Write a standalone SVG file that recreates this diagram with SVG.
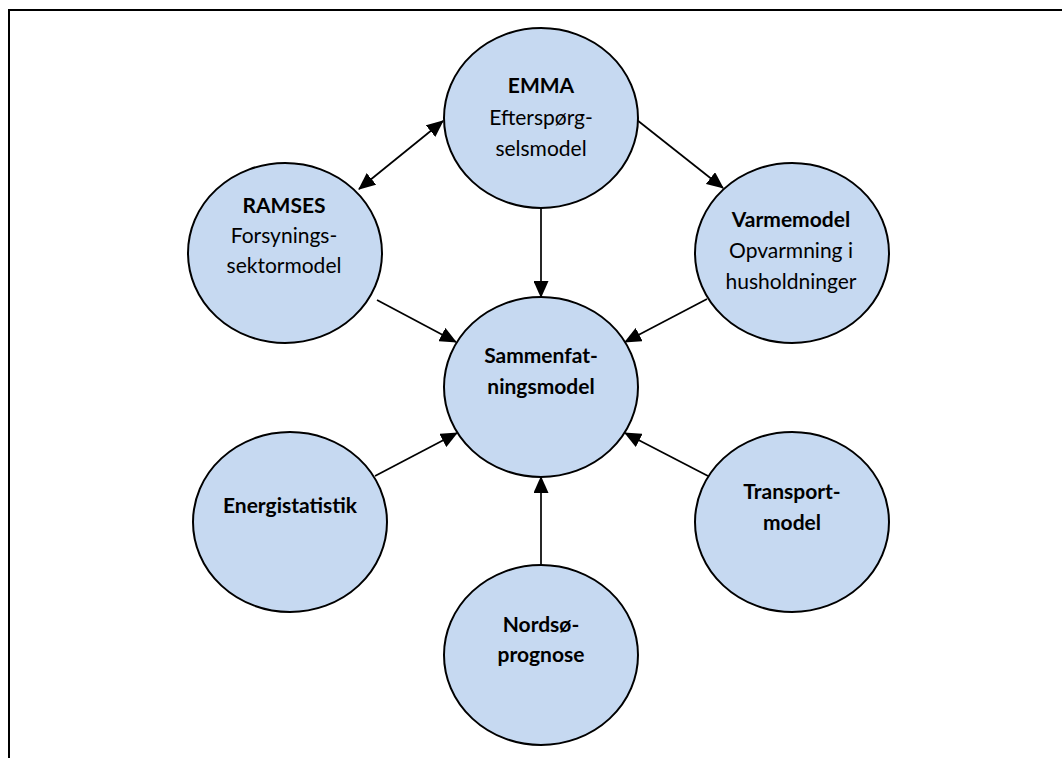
<svg xmlns="http://www.w3.org/2000/svg" width="1063" height="758" viewBox="0 0 1063 758">
<style>
.node{fill:#C6D9F1;stroke:#000;stroke-width:2}
.t{font-family:Lato,"Open Sans","Liberation Sans",sans-serif;font-size:21px;fill:#000;text-anchor:middle}
.b{font-weight:bold}
.c{stroke:#000;stroke-width:1.7;fill:none}
.frame{stroke:#000;stroke-width:2;fill:none}
</style>
<defs>
<marker id="ah" viewBox="0 0 17 15" refX="16" refY="7.5" markerWidth="17" markerHeight="15" markerUnits="userSpaceOnUse" orient="auto-start-reverse">
<path d="M0,0 L17,7.5 L0,15 Z" fill="#000"/>
</marker>
</defs>
<path class="frame" d="M9,758 L9,10 L1062,10"/>
<g id="connectors">
<line class="c" x1="359" y1="189" x2="443" y2="121" marker-start="url(#ah)" marker-end="url(#ah)"/>
<line class="c" x1="637" y1="120" x2="723" y2="188" marker-end="url(#ah)"/>
<line class="c" x1="541" y1="208" x2="541" y2="297" marker-end="url(#ah)"/>
<line class="c" x1="377" y1="300" x2="456" y2="342" marker-end="url(#ah)"/>
<line class="c" x1="707" y1="299" x2="625" y2="342" marker-end="url(#ah)"/>
<line class="c" x1="375" y1="476" x2="457" y2="433" marker-end="url(#ah)"/>
<line class="c" x1="541" y1="565" x2="541" y2="477" marker-end="url(#ah)"/>
<line class="c" x1="708" y1="476" x2="625" y2="433" marker-end="url(#ah)"/>
</g>
<g id="emma">
<ellipse class="node" cx="541" cy="118" rx="97" ry="90"/>
<text class="t b" x="541" y="93">EMMA</text>
<text class="t" x="541" y="125">Efterspørg-</text>
<text class="t" x="541" y="156">selsmodel</text>
</g>
<g id="ramses">
<ellipse class="node" cx="285" cy="253" rx="97" ry="90"/>
<text class="t b" x="284" y="213">RAMSES</text>
<text class="t" x="284" y="243">Forsynings-</text>
<text class="t" x="284" y="273">sektormodel</text>
</g>
<g id="varmemodel">
<ellipse class="node" cx="792" cy="253" rx="97" ry="90"/>
<text class="t b" x="791" y="227">Varmemodel</text>
<text class="t" x="791" y="258">Opvarmning i</text>
<text class="t" x="791" y="289">husholdninger</text>
</g>
<g id="sammenfatningsmodel">
<ellipse class="node" cx="541" cy="387" rx="97" ry="90"/>
<text class="t b" x="541" y="363">Sammenfat-</text>
<text class="t b" x="541" y="394">ningsmodel</text>
</g>
<g id="energistatistik">
<ellipse class="node" cx="290" cy="522" rx="97" ry="90"/>
<text class="t b" x="290" y="513">Energistatistik</text>
</g>
<g id="transportmodel">
<ellipse class="node" cx="792" cy="522" rx="97" ry="90"/>
<text class="t b" x="792" y="499">Transport-</text>
<text class="t b" x="792" y="530">model</text>
</g>
<g id="nordsoprognose">
<ellipse class="node" cx="541" cy="655" rx="97" ry="90"/>
<text class="t b" x="541" y="632">Nordsø-</text>
<text class="t b" x="541" y="662">prognose</text>
</g>
</svg>
